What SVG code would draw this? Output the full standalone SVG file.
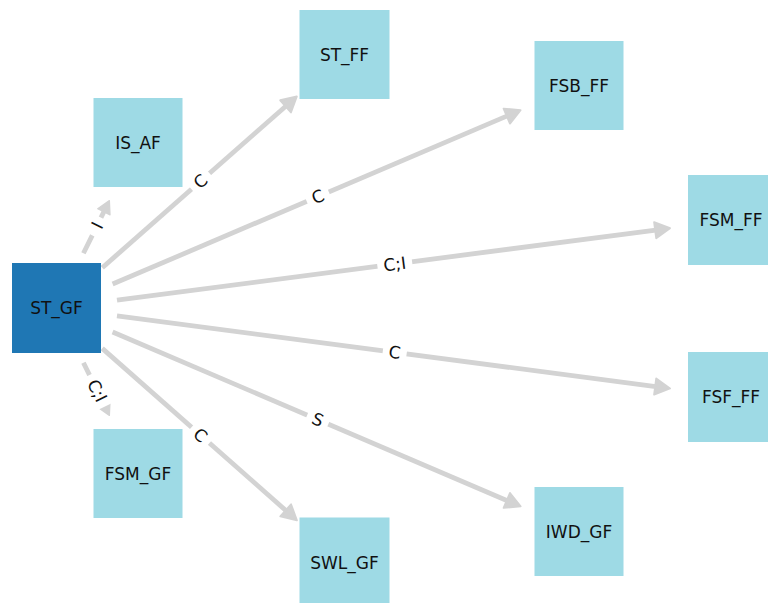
<svg xmlns="http://www.w3.org/2000/svg" width="768" height="603" viewBox="0 0 768 603">
<style>
.node rect{fill:#9edae5}
#ST_GF rect{fill:#1f77b4}
.node text,.lbl text{font-family:"DejaVu Sans",sans-serif;font-size:17px;fill:#111;text-anchor:middle}
.edge{stroke:#d3d3d3;stroke-width:4.8;fill:none;marker-end:url(#ah)}
.dash{stroke-dasharray:20 8;marker-end:url(#ahs)}
.lbl rect{fill:#fff}
</style>
<defs>
<marker id="ah" markerUnits="userSpaceOnUse" orient="auto" refX="0" refY="0" markerWidth="20" markerHeight="20" viewBox="-4 -8 16 16" overflow="visible">
<path d="M-2,-6.5 L10,0 L-2,6.5 Z" fill="#d3d3d3" stroke="#d3d3d3" stroke-width="1.5" stroke-linejoin="round"/>
</marker>
<marker id="ahs" markerUnits="userSpaceOnUse" orient="auto" refX="0" refY="0" markerWidth="20" markerHeight="20" viewBox="-4 -8 16 16" overflow="visible">
<path d="M-1,-5.5 L9,0 L-1,5.5 Z" fill="#d3d3d3" stroke="#d3d3d3" stroke-width="1" stroke-linejoin="round"/>
</marker>
</defs>
<rect width="768" height="603" fill="#fff"/>
<g id="edges">
<line class="edge dash" x1="83.45" y1="253.28" x2="104.42" y2="210.68"/>
<line class="edge" x1="102.29" y1="267.70" x2="287.45" y2="104.72"/>
<line class="edge" x1="112.62" y1="284.08" x2="509.08" y2="115.10"/>
<line class="edge" x1="116.99" y1="300.13" x2="657.63" y2="229.80"/>
<line class="edge" x1="116.98" y1="315.93" x2="657.65" y2="386.82"/>
<line class="edge" x1="112.59" y1="331.97" x2="509.11" y2="501.43"/>
<line class="edge" x1="102.22" y1="348.37" x2="287.53" y2="512.00"/>
<line class="edge dash" x1="83.45" y1="362.72" x2="104.42" y2="405.32"/>
<g class="lbl" transform="translate(97.25 225.25) rotate(-63.78)"><rect x="-8.5" y="-12" width="17" height="24" rx="4"/><text y="6">I</text></g>
<g class="lbl" transform="translate(200.5 181.25) rotate(-41.35)"><rect x="-12" y="-12" width="24" height="24" rx="4"/><text y="6">C</text></g>
<g class="lbl" transform="translate(317.75 196.65) rotate(-23.09)"><rect x="-12" y="-12" width="24" height="24" rx="4"/><text y="6">C</text></g>
<g class="lbl" transform="translate(394.75 264) rotate(-7.41)"><rect x="-17.5" y="-12" width="35" height="24" rx="4"/><text y="6">C;I</text></g>
<g class="lbl" transform="translate(394.75 352.35) rotate(7.47)"><rect x="-12" y="-12" width="24" height="24" rx="4"/><text y="6">C</text></g>
<g class="lbl" transform="translate(317.75 419.65) rotate(23.14)"><rect x="-11.5" y="-12" width="23" height="24" rx="4"/><text y="6">S</text></g>
<g class="lbl" transform="translate(200.5 435.15) rotate(41.44)"><rect x="-12" y="-12" width="24" height="24" rx="4"/><text y="6">C</text></g>
<g class="lbl" transform="translate(97.25 390.75) rotate(63.78)"><rect x="-17.5" y="-12" width="35" height="24" rx="4"/><text y="6">C;I</text></g>
</g>
<g id="ST_GF" class="node"><rect x="12" y="263" width="89" height="90"/><text x="56.5" y="314">ST_GF</text></g>
<g id="IS_AF" class="node"><rect x="93.5" y="98" width="89" height="89"/><text x="138" y="148.5">IS_AF</text></g>
<g id="ST_FF" class="node"><rect x="299.5" y="10" width="90" height="89"/><text x="344.5" y="60.5">ST_FF</text></g>
<g id="FSB_FF" class="node"><rect x="534.5" y="41" width="89" height="89"/><text x="579" y="91.5">FSB_FF</text></g>
<g id="FSM_FF" class="node"><rect x="688" y="175" width="90" height="90"/><text x="731" y="226">FSM_FF</text></g>
<g id="FSF_FF" class="node"><rect x="688" y="352" width="90" height="90"/><text x="731" y="403">FSF_FF</text></g>
<g id="IWD_GF" class="node"><rect x="534.5" y="487" width="89" height="89"/><text x="579" y="537.5">IWD_GF</text></g>
<g id="SWL_GF" class="node"><rect x="299.5" y="517.5" width="90" height="90"/><text x="344.5" y="568.5">SWL_GF</text></g>
<g id="FSM_GF" class="node"><rect x="93.5" y="429" width="89" height="89"/><text x="138" y="479.5">FSM_GF</text></g>
</svg>
